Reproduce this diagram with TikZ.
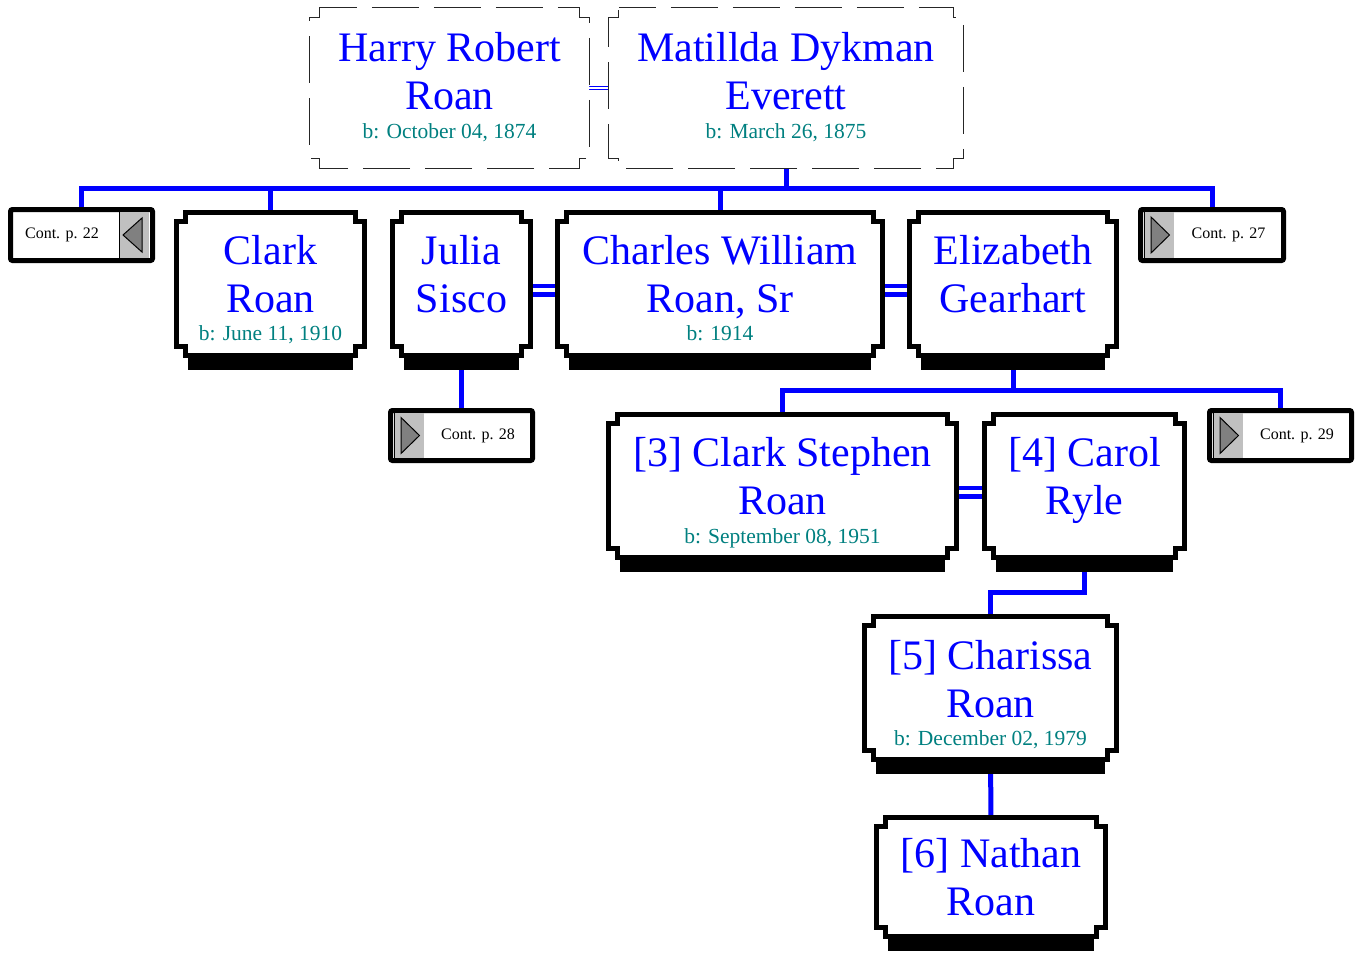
\documentclass[tikz,border=0pt]{standalone}
\usepackage{fontspec}
\setmainfont{Liberation Serif}
\usepackage{xcolor}
\usetikzlibrary{calc,backgrounds}

\definecolor{nameblue}{RGB}{0,0,255}
\definecolor{dateteal}{RGB}{0,128,128}
\definecolor{tabgray}{RGB}{192,192,192}
\definecolor{arrowgray}{RGB}{128,128,128}

\newcommand\namefont{\fontsize{42}{48}\selectfont}
\newcommand\datefont{\fontsize{21.5}{25}\selectfont\color{dateteal}}
\newcommand\contfont{\fontsize{16}{19}\selectfont}
\newcommand\lift[1]{\rule{0pt}{#1pt}}

% card outline with square notches at the corners
\newcommand\notchframe[3]{%
  \draw[#1] ($(#2.north west)+(#3,0)$) -- ($(#2.north east)+(-#3,0)$) -- ++(0,#3) -- ++(#3,0)
    -- ($(#2.south east)+(0,-#3)$) -- ++(-#3,0) -- ++(0,#3)
    -- ($(#2.south west)+(#3,0)$) -- ++(0,-#3) -- ++(-#3,0)
    -- ($(#2.north west)+(0,#3)$) -- ++(#3,0) -- cycle;}
\newcommand\shadowbar[1]{%
  \fill ([xshift=12pt,yshift=5pt]#1.south west) rectangle ([xshift=-12pt,yshift=-14pt]#1.south east);}
% grey tabs of the continuation boxes
\newcommand\tabright[1]{%
  \fill[tabgray] ([xshift=-33.5pt,yshift=-2.5pt]#1.north east) rectangle ([xshift=-3.5pt,yshift=2.5pt]#1.south east);
  \draw[line width=0.8pt] ([xshift=-33.5pt,yshift=-2.5pt]#1.north east) -- ([xshift=-33.5pt,yshift=2.5pt]#1.south east);
  \draw[tri] ([xshift=-29.5pt]#1.east) -- ([xshift=-10.5pt,yshift=17pt]#1.east) -- ([xshift=-10.5pt,yshift=-17pt]#1.east) -- cycle;}
\newcommand\tableft[1]{%
  \fill[tabgray] ([xshift=3.5pt,yshift=-2.5pt]#1.north west) rectangle ([xshift=33pt,yshift=2.5pt]#1.south west);
  \draw[line width=0.8pt] ([xshift=3.5pt,yshift=-2.5pt]#1.north west) -- ([xshift=3.5pt,yshift=2.5pt]#1.south west);
  \draw[tri] ([xshift=10.5pt,yshift=18pt]#1.west) -- ([xshift=29pt]#1.west) -- ([xshift=10.5pt,yshift=-18pt]#1.west) -- cycle;}

\begin{document}
\begin{tikzpicture}[x=1pt, y=-1pt,
  card/.style={inner sep=0pt, align=center, text=nameblue, font=\namefont, minimum height=143pt},
  cont/.style={draw, line width=5pt, rounded corners=2pt, fill=white, outer sep=0pt, inner sep=0pt,
    minimum width=142pt, minimum height=51pt, font=\contfont},
  frame/.style={draw=black, line width=5pt, fill=white},
  dashframe/.style={draw=black!85, line width=1.3pt, dash pattern=on 47pt off 15pt, dash phase=10pt, fill=white},
  link/.style={draw=nameblue, line width=5pt},
  spouse/.style={draw=nameblue, double=white, line width=4.5pt, double distance=4pt},
  thindouble/.style={draw=nameblue, double=white, line width=1pt, double distance=1.5pt},
  tri/.style={fill=arrowgray, draw=black, line width=1pt}
]
\useasboundingbox (0,0) rectangle (1357,956);

% parents
\node[card, minimum width=279pt, minimum height=161pt] (harry) at (449.5,88)
  {\lift{31.5}Harry Robert\\Roan\\[-19.5pt]{\datefont b: October 04, 1874\strut}};
\node[card, minimum width=354pt, minimum height=161pt] (matilda) at (786,88)
  {\lift{31.5}Matillda Dykman\\Everett\\[-19.5pt]{\datefont b: March 26, 1875\strut}};

% children
\node[cont] (c22) at (81.5,235) {Cont. p. 22\hspace*{39pt}};
\node[card, minimum width=188pt] (clark) at (270.5,284)
  {\lift{44}Clark\\Roan\\[-19.5pt]{\datefont b: June 11, 1910\strut}};
\node[card, minimum width=138pt] (julia) at (461.5,284)
  {\lift{44}Julia\\Sisco\\[-19.5pt]{\datefont\strut}};
\node[card, minimum width=325pt] (charles) at (720,284)
  {\lift{44}Charles William\\Roan, Sr\\[-19.5pt]{\datefont b: 1914\strut}};
\node[card, minimum width=207pt] (elizabeth) at (1013,284)
  {\lift{44}Elizabeth\\Gearhart\\[-19.5pt]{\datefont\strut}};
\node[cont, minimum width=143pt] (c27) at (1212,235) {\hspace*{33pt}Cont. p. 27};
\node[cont, minimum height=50pt] (c28) at (461.5,435.5) {\hspace*{33pt}Cont. p. 28};

% grandchildren
\node[card, minimum width=348pt] (stephen) at (782.5,486)
  {\lift{45}[3] Clark Stephen\\Roan\\[-19.5pt]{\datefont b: September 08, 1951\strut}};
\node[card, minimum width=200pt] (carol) at (1084.5,486)
  {\lift{45}[4] Carol\\Ryle\\[-19.5pt]{\datefont\strut}};
\node[cont, minimum height=50pt] (c29) at (1280.5,435.5) {\hspace*{33pt}Cont. p. 29};
\node[card, minimum width=252pt] (charissa) at (990.5,688)
  {\lift{46}[5] Charissa\\Roan\\[-19.5pt]{\datefont b: December 02, 1979\strut}};
\node[card, minimum width=229pt, minimum height=119pt] (nathan) at (991,877)
  {\lift{30}[6] Nathan\\Roan};

\tabright{c22}
\tableft{c27}
\tableft{c28}
\tableft{c29}

\coordinate (kids) at (786,188);
\coordinate (kids2) at (1013,390);

\begin{scope}[on background layer]
  \draw[link] (matilda.south) -- (kids);
  \draw[link] (c22.north) |- (kids) -- (kids -| c27.north) -- (c27.north);
  \draw[link] (clark.north) -- (clark.north |- kids);
  \draw[link] (charles.north) -- (charles.north |- kids);
  \draw[thindouble] (harry.east) -- (matilda.west);
  \draw[spouse] ([yshift=-6pt]julia.east) -- ([yshift=-6pt]charles.west);
  \draw[spouse] ([yshift=-6pt]charles.east) -- ([yshift=-6pt]elizabeth.west);
  \draw[link] (julia.south) -- (c28.north);
  \draw[link] (elizabeth.south) -- (kids2);
  \draw[link] (stephen.north) |- (kids2) -- (kids2 -| c29.north) -- (c29.north);
  \draw[spouse] ([yshift=-6pt]stephen.east) -- ([yshift=-6pt]carol.west);
  \draw[link] (carol.south) -- ([yshift=-35pt]carol.south) -| (charissa.north);
  \draw[link] (charissa.south) -- (nathan.north);

  \notchframe{dashframe}{harry}{10}
  \notchframe{dashframe}{matilda}{10}
  \foreach \p in {clark,julia,charles,elizabeth,stephen,carol,charissa,nathan}{
    \shadowbar{\p}
    \notchframe{frame}{\p}{9}
  }
\end{scope}
\end{tikzpicture}
\end{document}
